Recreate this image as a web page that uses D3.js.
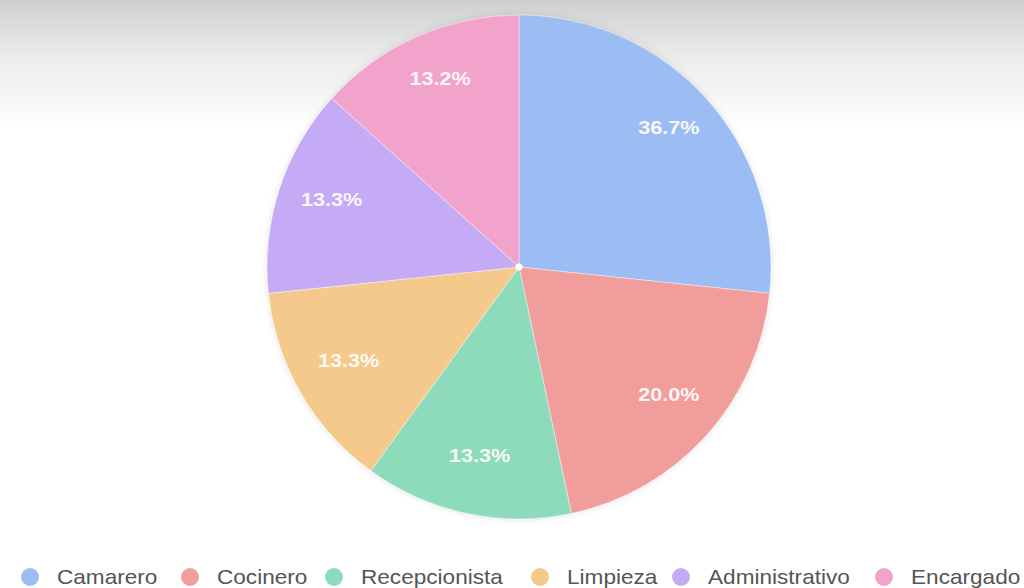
<!DOCTYPE html>
<html>
  <head>
    <meta charset="utf-8">
    <title>Puestos</title>
    <style>
      body { margin: 0; background: #fff; }
      #chart { width: 1024px; height: 588px; position: relative; }
      .legend text { font-family: "Liberation Sans", Arial, sans-serif; font-size: 20px; fill: #555; }
      .slice-label { font-family: "Liberation Sans", Arial, sans-serif; font-size: 18px; font-weight: bold; fill: #fff; fill-opacity: 0.92; }
    </style>
  </head>
  <body>
    <div id="chart"></div>
    <script src="https://cdn.jsdelivr.net/npm/d3@7"></script>
    <script>
      var categories = ['Camarero', 'Cocinero', 'Recepcionista', 'Limpieza', 'Administrativo', 'Encargado'];
      var counts = [4, 3, 2, 2, 2, 2];
      var labels = ['36.7%', '20.0%', '13.3%', '13.3%', '13.3%', '13.2%'];
      var colors = ['#9cbdf3', '#f19d9b', '#8ddbbb', '#f5c98b', '#c5aaf5', '#f1a3cb'];

      var width = 1024, height = 588;
      var cx = 519, cy = 267, radius = 252;

      var svg = d3.select('#chart').append('svg')
        .attr('width', width)
        .attr('height', height);

      var defs = svg.append('defs');
      var grad = defs.append('linearGradient')
        .attr('id', 'bg').attr('x1', 0).attr('y1', 0).attr('x2', 0).attr('y2', 1);
      grad.append('stop').attr('offset', '0%').attr('stop-color', '#cfcfcf');
      grad.append('stop').attr('offset', '45%').attr('stop-color', '#ececec');
      grad.append('stop').attr('offset', '100%').attr('stop-color', '#ffffff');

      var shadow = defs.append('filter').attr('id', 'shadow')
        .attr('x', '-10%').attr('y', '-10%').attr('width', '120%').attr('height', '120%');
      shadow.append('feDropShadow')
        .attr('dx', 0).attr('dy', 0).attr('stdDeviation', 3)
        .attr('flood-color', '#000').attr('flood-opacity', 0.12);

      svg.append('rect').attr('width', width).attr('height', 130).attr('fill', 'url(#bg)');

      var color = d3.scaleOrdinal().domain(categories).range(colors);

      var pie = d3.pie().value(function(d) { return d.count; }).sort(null);
      var arc = d3.arc().innerRadius(0).outerRadius(radius);
      var labelArc = d3.arc().innerRadius(radius * 0.79).outerRadius(radius * 0.79);

      var data = categories.map(function(c, i) {
        return { label: c, count: counts[i], text: labels[i] };
      });

      var g = svg.append('g')
        .attr('transform', 'translate(' + cx + ',' + cy + ')');

      g.append('g').attr('filter', 'url(#shadow)')
        .selectAll('path')
        .data(pie(data))
        .enter()
        .append('path')
        .attr('d', arc)
        .attr('fill', function(d) { return color(d.data.label); })
        .attr('stroke', '#ffffff')
        .attr('stroke-opacity', 0.5)
        .attr('stroke-width', 0.8);

      // text in the picture is a bit wider than the font, stretch it
      g.selectAll('.slice-label')
        .data(pie(data))
        .enter()
        .append('text')
        .attr('class', 'slice-label')
        .attr('transform', function(d) {
          var c = labelArc.centroid(d);
          return 'translate(' + (c[0] + 2) + ',' + (c[1] - 6) + ') scale(1.2,1)';
        })
        .attr('text-anchor', 'middle')
        .attr('dy', '0.35em')
        .text(function(d) { return d.data.text; });

      g.append('circle').attr('r', 3.5).attr('fill', '#fff');

      // legend
      var legendX = [30, 190, 334, 540, 681, 884];
      var legend = svg.selectAll('.legend')
        .data(categories)
        .enter()
        .append('g')
        .attr('class', 'legend')
        .attr('transform', function(d, i) { return 'translate(' + legendX[i] + ',577)'; });

      legend.append('circle')
        .attr('r', 9)
        .attr('fill', color);

      legend.append('text')
        .attr('transform', 'translate(27,0) scale(1.13,1)')
        .attr('dy', '0.35em')
        .text(function(d) { return d; });
    </script>
  </body>
</html>
